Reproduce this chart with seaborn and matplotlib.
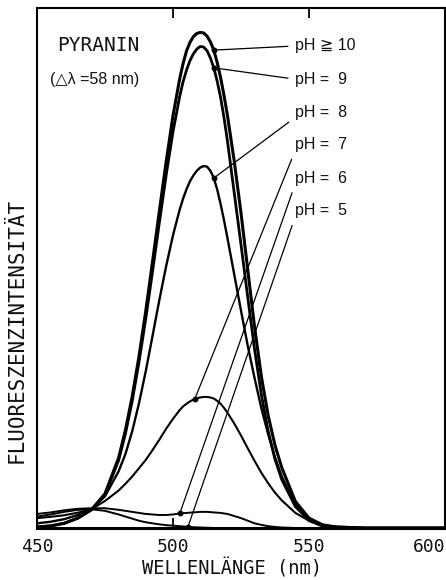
import numpy as np
import pandas as pd
import matplotlib
matplotlib.use('Agg')
import matplotlib.pyplot as plt
import seaborn as sns

sns.set_theme(style='white')
plt.rcParams['font.family'] = ['DejaVu Sans Mono', 'DejaVu Sans']
plt.rcParams['lines.solid_joinstyle'] = 'round'
plt.rcParams['lines.solid_capstyle'] = 'round'

# wavelength grid (nm) the curves were read at, denser round the peaks
wavelength = [450, 455, 460, 465, 470, 475, 480,
              482.5, 485, 487.5, 490, 492.5, 495, 497.5, 500,
              502.5, 503.75, 505, 506.25, 507.5, 508.75, 510, 511.25, 512.5,
              513.75, 515, 516.25, 517.5, 518.75, 520,
              522.5, 525, 527.5, 530, 532.5, 535, 537.5, 540,
              545, 550, 555, 560, 570, 580, 590, 600]

# fluorescence intensity (arbitrary units, 0-100)
ph10 = [0.2, 0.4, 0.9, 1.9, 3.5, 6.6, 13.5,
        18.8, 25.3, 33.0, 41.8, 51.3, 61.0, 70.5, 79.3,
        86.5, 89.4, 91.8, 93.4, 94.5, 95.1, 95.3, 95.2, 94.6,
        93.5, 91.9, 89.5, 86.6, 83.2, 79.4,
        70.6, 60.6, 49.6, 38.6, 29.1, 21.6, 15.9, 11.6,
        5.1, 1.9, 0.6, 0.2, 0, 0, 0, 0]
ph9 = [0.2, 0.4, 0.9, 1.9, 3.5, 6.4, 13.0,
       18.1, 24.4, 31.9, 40.3, 49.4, 58.8, 67.9, 76.2,
       83.1, 85.9, 88.1, 89.9, 91.2, 92.1, 92.6, 92.5, 91.8,
       90.4, 88.5, 85.9, 82.8, 78.9, 74.5,
       64.5, 54.5, 44.3, 34.3, 25.6, 18.6, 13.2, 9.3,
       4.1, 1.5, 0.5, 0.2, 0, 0, 0, 0]
ph8 = [0.9, 1.2, 1.7, 2.5, 3.6, 6.1, 10.9,
       14.2, 18.6, 24.0, 30.2, 37.0, 43.9, 50.4, 56.3,
       61.3, 63.4, 65.2, 66.7, 67.8, 68.7, 69.3, 69.6, 69.5,
       68.7, 67.3, 65.1, 62.3, 59.2, 55.8,
       48.8, 41.8, 35.0, 28.8, 23.0, 18.0, 13.6, 9.9,
       4.4, 1.4, 0.3, 0.05, 0, 0, 0, 0]
ph7 = [1.9, 2.15, 2.45, 2.95, 3.6, 5.2, 7.2,
       8.5, 9.9, 11.5, 13.1, 15.0, 17.0, 19.1, 21.0,
       22.7, 23.4, 23.9, 24.35, 24.7, 24.95, 25.1, 25.2, 25.2,
       25.1, 24.9, 24.45, 23.9, 23.1, 22.2,
       20.1, 17.8, 15.3, 12.9, 10.6, 8.6, 6.8, 5.3,
       2.9, 1.4, 0.5, 0.2, 0, 0, 0, 0]
ph6 = [2.7, 3.0, 3.4, 3.7, 3.8, 3.8, 3.5,
       3.3, 3.1, 2.9, 2.7, 2.6, 2.5, 2.5, 2.6,
       2.8, 2.85, 2.9, 2.95, 3.0, 3.05, 3.1, 3.1, 3.1,
       3.05, 3.0, 2.95, 2.9, 2.8, 2.7,
       2.3, 1.9, 1.4, 0.9, 0.6, 0.35, 0.2, 0.1,
       0, 0, 0, 0, 0, 0, 0, 0]
ph5 = [2.2, 2.6, 3.1, 3.5, 3.6, 3.3, 2.6,
       2.2, 1.8, 1.4, 1.1, 0.9, 0.7, 0.55, 0.45,
       0.35, 0.3, 0.25, 0.2, 0.15, 0.12, 0.1, 0.07, 0.05,
       0.02, 0, 0, 0, 0, 0,
       0, 0, 0, 0, 0, 0, 0, 0,
       0, 0, 0, 0, 0, 0, 0, 0]

labels = ['pH ≧ 10', 'pH =  9', 'pH =  8', 'pH =  7', 'pH =  6', 'pH =  5']
# wavelength where each label's pointer touches its curve
pointer_nm = [515, 515, 515, 508, 502.5, 505.5]
# vertical position of the label column
label_y = [92.7, 86.3, 80.0, 73.7, 67.3, 61.0]

series = [ph10, ph9, ph8, ph7, ph6, ph5]
widths = [2.2, 2.0, 1.7, 1.5, 1.4, 1.4]
relpos = [(0, 0.5), (0, 0.5), (0, 0.15), (0, 0.15), (0, 0.15), (0, 0.15)]

df = pd.DataFrame({'nm': wavelength})

fig = plt.figure(figsize=(4.46, 5.8), dpi=100)
ax = fig.add_axes([37/446, 1 - 528/580, 408/446, 520/580])

for vals, lab, lw in zip(series, labels, widths):
    df['val'] = vals
    sns.lineplot(data=df, x='nm', y='val', ax=ax, color='black', lw=lw,
                 estimator=None, legend=False)

sans = ['Liberation Sans', 'DejaVu Sans']
for vals, lab, pnm, ly, rp in zip(series, labels, pointer_nm, label_y, relpos):
    py = np.interp(pnm, wavelength, vals)
    ax.plot(pnm, py, 'o', color='black', ms=3.2)
    ax.annotate(lab, xy=(pnm, py), xytext=(545, ly), ha='left', va='center',
                fontsize=11.5, family=sans, color='#111111',
                arrowprops=dict(arrowstyle='-', color='black', lw=0.9,
                                shrinkA=3, shrinkB=0, relpos=rp))

ax.text(457.4, 92.7, 'PYRANIN', ha='left', va='center', fontsize=14,
        family='DejaVu Sans Mono', color='#111111')
ax.text(454.8, 86.2, '(△λ =58 nm)', ha='left', va='center', fontsize=11.5,
        family=sans, color='#111111')

ax.set_xlim(450, 600)
ax.set_ylim(0, 100)
ax.set_yticks([])
ax.set_xticks([450, 500, 550, 600])
ax.set_xticklabels(['450', '500', '550', '600'], fontsize=13,
                   family='DejaVu Sans Mono', color='#111111')
ax.get_xticklabels()[-1].set_ha('right')
ax.tick_params(axis='x', direction='in', top=True, bottom=True, length=7,
               width=1.3, color='black', pad=7)
for tk, val in zip(ax.xaxis.get_major_ticks(), [450, 500, 550, 600]):
    if val != 500:
        tk.tick1line.set_visible(False)
    if val in (450, 600):
        tk.tick2line.set_visible(False)

ax.set_xlabel('WELLENLÄNGE (nm)', fontsize=13.5, family='DejaVu Sans Mono',
              color='#111111', va='center')
ax.xaxis.set_label_coords(0.478, -0.077)
ax.set_ylabel('FLUORESZENZINTENSITÄT', fontsize=15, family='DejaVu Sans Mono',
              color='#111111', va='center')
ax.yaxis.set_label_coords(-0.049, 0.38)

for side in ['left', 'right', 'top']:
    ax.spines[side].set_color('black')
    ax.spines[side].set_linewidth(1.5)
ax.spines['bottom'].set_color('black')
ax.spines['bottom'].set_linewidth(2.2)
ax.set_facecolor('white')

fig.savefig('out.png', dpi=100, facecolor='white')
